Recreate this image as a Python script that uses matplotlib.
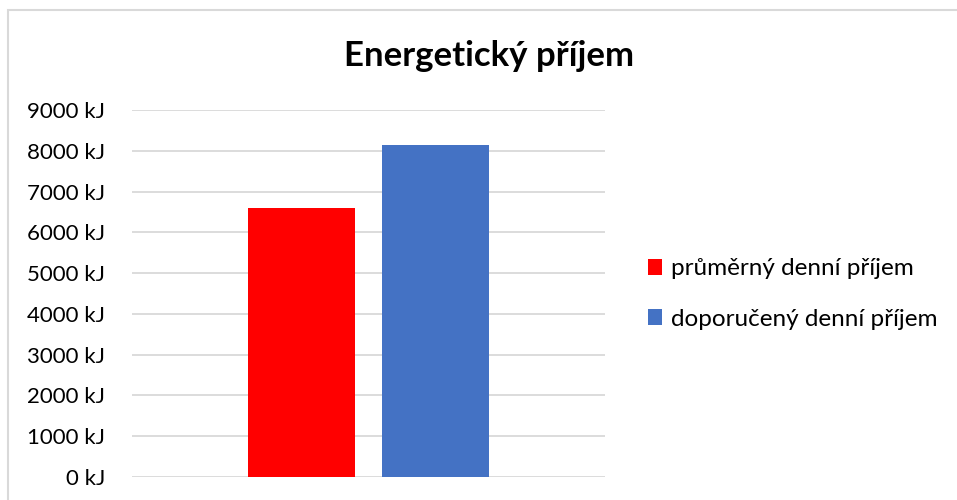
import matplotlib
matplotlib.use("Agg")
import matplotlib.pyplot as plt
from matplotlib.patches import Rectangle
from matplotlib.ticker import FuncFormatter

plt.rcParams["font.family"] = ["Lato", "DejaVu Sans"]

# data
series = ["průměrný denní příjem", "doporučený denní příjem"]
values = [6600, 8140]
colors = ["#ff0000", "#4472c4"]
yticks = list(range(0, 9001, 1000))

fig = plt.figure(figsize=(9.57, 5.0), dpi=100)
# plot area in pixels: x 132..605, y 110..477
ax = fig.add_axes([132 / 957, (500 - 477) / 500, (605 - 132) / 957, (477 - 110) / 500])

offsets = [-0.1425, 0.1425]
for name, val, col, off in zip(series, values, colors, offsets):
    ax.bar(off, val, width=0.226, color=col, label=name, zorder=3)

ax.set_xlim(-0.5, 0.5)
ax.set_ylim(0, 9000)
ax.set_yticks(yticks)
ax.yaxis.set_major_formatter(FuncFormatter(lambda v, p: f"{int(v)} kJ"))
ax.set_xticks([])
ax.grid(axis="y", color="#d9d9d9", linewidth=1.3, zorder=0)
for s in ax.spines.values():
    s.set_visible(False)
ax.tick_params(axis="y", length=0, pad=19.5, labelsize=16, labelcolor="#000000")

fig.text(489 / 957, 1 - 56 / 500, "Energetický příjem", ha="center", va="center",
         fontsize=25, fontweight="bold")

leg = fig.legend(loc="center left", bbox_to_anchor=(626 / 957, 1 - 294 / 500),
                 frameon=False, fontsize=17.5, handlelength=0.6, handleheight=0.6,
                 handletextpad=0.35, labelspacing=1.2)

# chart border
fig.patches.append(Rectangle((8 / 957, -0.1), 1.2, 1 - 10 / 500 + 0.1,
                             transform=fig.transFigure, fill=False,
                             edgecolor="#d9d9d9", linewidth=1.5))

fig.savefig("out.png", dpi=100)
